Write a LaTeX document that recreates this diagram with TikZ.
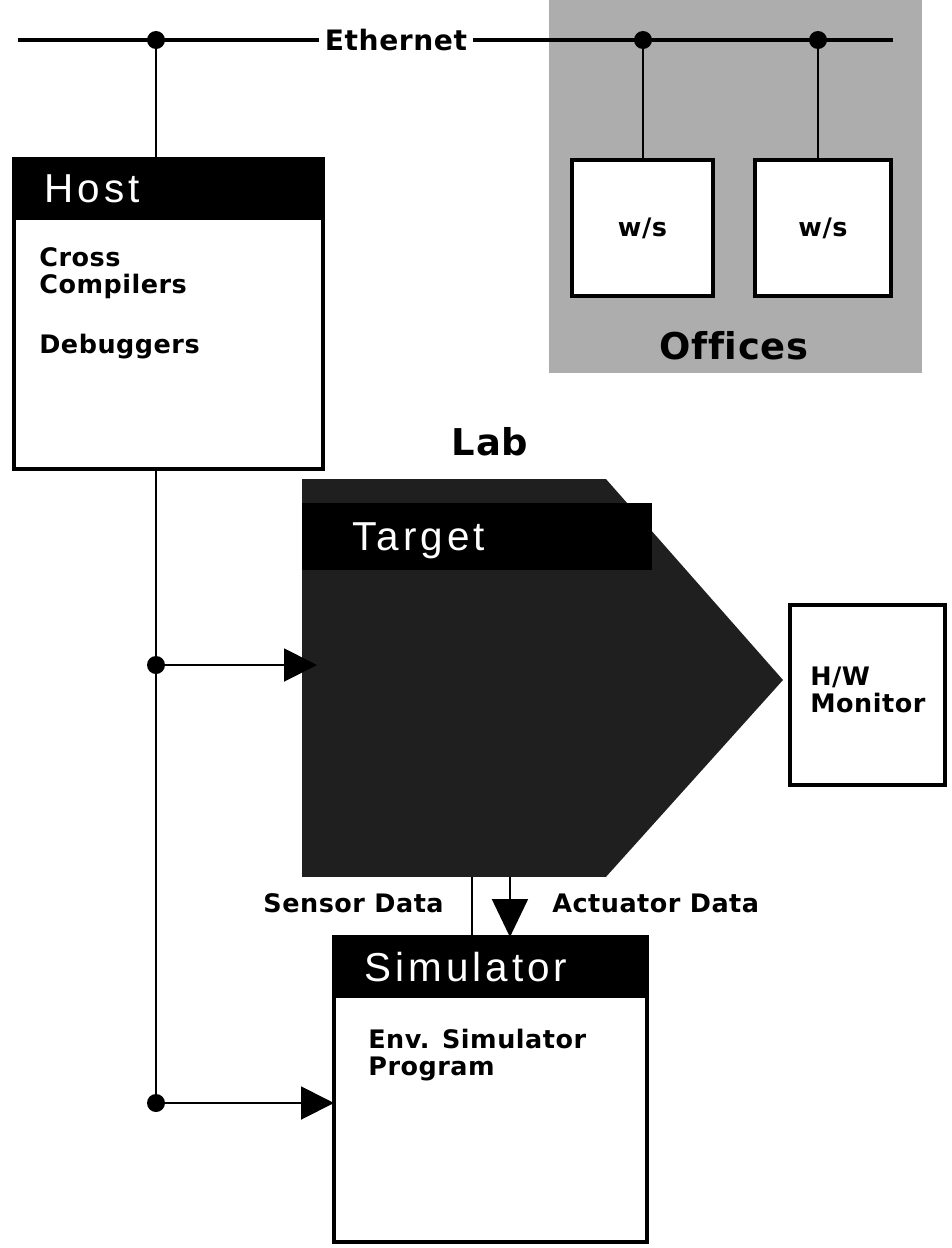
\documentclass[tikz,border=0pt]{standalone}
\usepackage{fontspec}
\setmainfont{Liberation Sans}[LetterSpace=10]
\newfontfamily\heavyfont{DejaVu Sans}[LetterSpace=2, Ligatures=NoCommon]
\usepackage{xcolor}
\colorlet{OFFICECOLOR}{black!32}
\colorlet{TARGETCOLOR}{black!88}
\colorlet{BARCOLOR}{black}
\usepackage{tikz}
\usetikzlibrary{arrows.meta,positioning,calc}
\tikzset{
  box-style/.style = {
    rectangle, draw, line width=2.6pt, fill=white,
    anchor=north west, inner sep=0pt, outer sep=0pt
  },
  bar-style/.style = {
    box-style, fill=BARCOLOR,
    minimum height=1.18cm
  },
  title-style/.style = {
    anchor=base west, inner sep=0pt, text=white,
    font=\fontsize{23pt}{23pt}\selectfont
  },
  body-style/.style = {
    anchor=north west, inner sep=0pt, align=left,
    font=\heavyfont\bfseries\fontsize{14.5pt}{15.4pt}\selectfont
  },
  big-label-style/.style = {
    inner sep=0pt, anchor=base,
    font=\heavyfont\bfseries\fontsize{21pt}{21pt}\selectfont
  },
  ethernet-style/.style = {
    inner xsep=3pt, inner ysep=0pt,
    font=\heavyfont\bfseries\fontsize{16pt}{16pt}\selectfont
  },
  ws-style/.style = {
    box-style,
    minimum height=2.72cm,
    font=\heavyfont\bfseries\fontsize{14.5pt}{14.5pt}\selectfont
  },
  dot-style/.style = {
    circle, fill, inner sep=0pt, minimum size=0.36cm
  },
  bus-style/.style = {draw, line width=2.6pt},
  link-style/.style = {draw, line width=1.1pt},
  arrow-style/.style = {
    link-style, -{Triangle[length=0.66cm, width=0.66cm]}
  }
}
\def\createBox name:#1 title:#2 at:#3 width:#4 height:#5;{
  \node [box-style, minimum width=#4, minimum height=#5] (#1) at #3 {};
  \node [bar-style, minimum width=#4] (#1-bar) at (#1.north west) {};
  \node [title-style] (#1-title) at ([xshift=0.6cm, yshift=-0.29cm]#1-bar.west) {#2};
}

\begin{document}
\begin{tikzpicture}[x=0.02cm, y=-0.02cm]
  \useasboundingbox (0,0) rectangle (951,1248);

  % offices
  \fill[OFFICECOLOR] (549,0) rectangle (922,373);
  \node[big-label-style] (offices) at (734,359) {Offices};
  \node[big-label-style] (lab) at (490,455) {Lab};

  % ethernet
  \coordinate (eth-west) at (18,40);
  \coordinate (eth-east) at (893,40);
  \node[ethernet-style] (ethernet) at (396,40) {Ethernet};
  \draw[bus-style] (eth-west) -- (ethernet) -- (eth-east);
  \node[dot-style] (eth-host) at (156,40) {};
  \node[dot-style] (eth-ws1) at (643,40) {};
  \node[dot-style] (eth-ws2) at (818,40) {};

  % workstations
  \node[ws-style, minimum width=2.82cm] (ws1) at (572,160) {w/s};
  \node[ws-style, minimum width=2.72cm] (ws2) at (755,160) {w/s};
  \draw[link-style] (eth-ws1) -- (eth-ws1 |- ws1.north);
  \draw[link-style] (eth-ws2) -- (eth-ws2 |- ws2.north);

  % host
  \createBox name:host title:Host at:(14,159) width:6.18cm height:6.2cm;
  \node[body-style] (host-text) at ([xshift=0.5cm, yshift=-1.76cm]host.north west)
    {Cross\\Compilers\\[0.66cm]Debuggers};

  % target
  \node[box-style, draw=none, fill=TARGETCOLOR,
        minimum width=6.08cm, minimum height=7.96cm] (target) at (302,479) {};
  \coordinate (target-tip) at (783,680);
  \fill[TARGETCOLOR] (target.north east) -- (target-tip) -- (target.south east) -- cycle;
  \node[bar-style, draw=none, minimum width=7cm, minimum height=1.34cm] (target-bar) at (302,503) {};
  \node[title-style] (target-title) at ([xshift=1cm, yshift=-0.29cm]target-bar.west) {Target};

  % monitor
  \node[box-style, minimum width=3.1cm, minimum height=3.6cm] (monitor) at (790,605) {};
  \node[body-style] (monitor-text) at ([xshift=0.4cm, yshift=-1.24cm]monitor.north west)
    {H/W\\Monitor};

  % simulator
  \createBox name:sim title:Simulator at:(334,937) width:6.26cm height:6.1cm;
  \node[body-style] (sim-text) at ([xshift=0.68cm, yshift=-1.84cm]sim.north west)
    {Env. Simulator\\Program};

  % host links
  \node[dot-style] (dot-target) at (156,665) {};
  \node[dot-style] (dot-sim) at (156,1103) {};
  \draw[link-style] (eth-host) -- (eth-host |- host.north);
  \draw[link-style] (eth-host |- host.south) -- (dot-sim);
  \draw[arrow-style, shorten >=-0.3cm] (dot-target) -- (dot-target -| target.west);
  \draw[arrow-style] (dot-sim) -- (dot-sim -| sim.west);

  % data
  \coordinate (sensor-top) at ([xshift=0.36cm]target.south);
  \coordinate (actuator-top) at ([xshift=1.12cm]target.south);
  \draw[link-style] (sensor-top) -- (sensor-top |- sim.north);
  \draw[link-style, -{Triangle[length=0.76cm, width=0.72cm]}] (actuator-top) -- (actuator-top |- sim.north);
  \node[body-style, anchor=east] (sensor-label) at (444,903) {Sensor Data};
  \node[body-style, anchor=west] (actuator-label) at (552,903) {Actuator Data};
\end{tikzpicture}
\end{document}
